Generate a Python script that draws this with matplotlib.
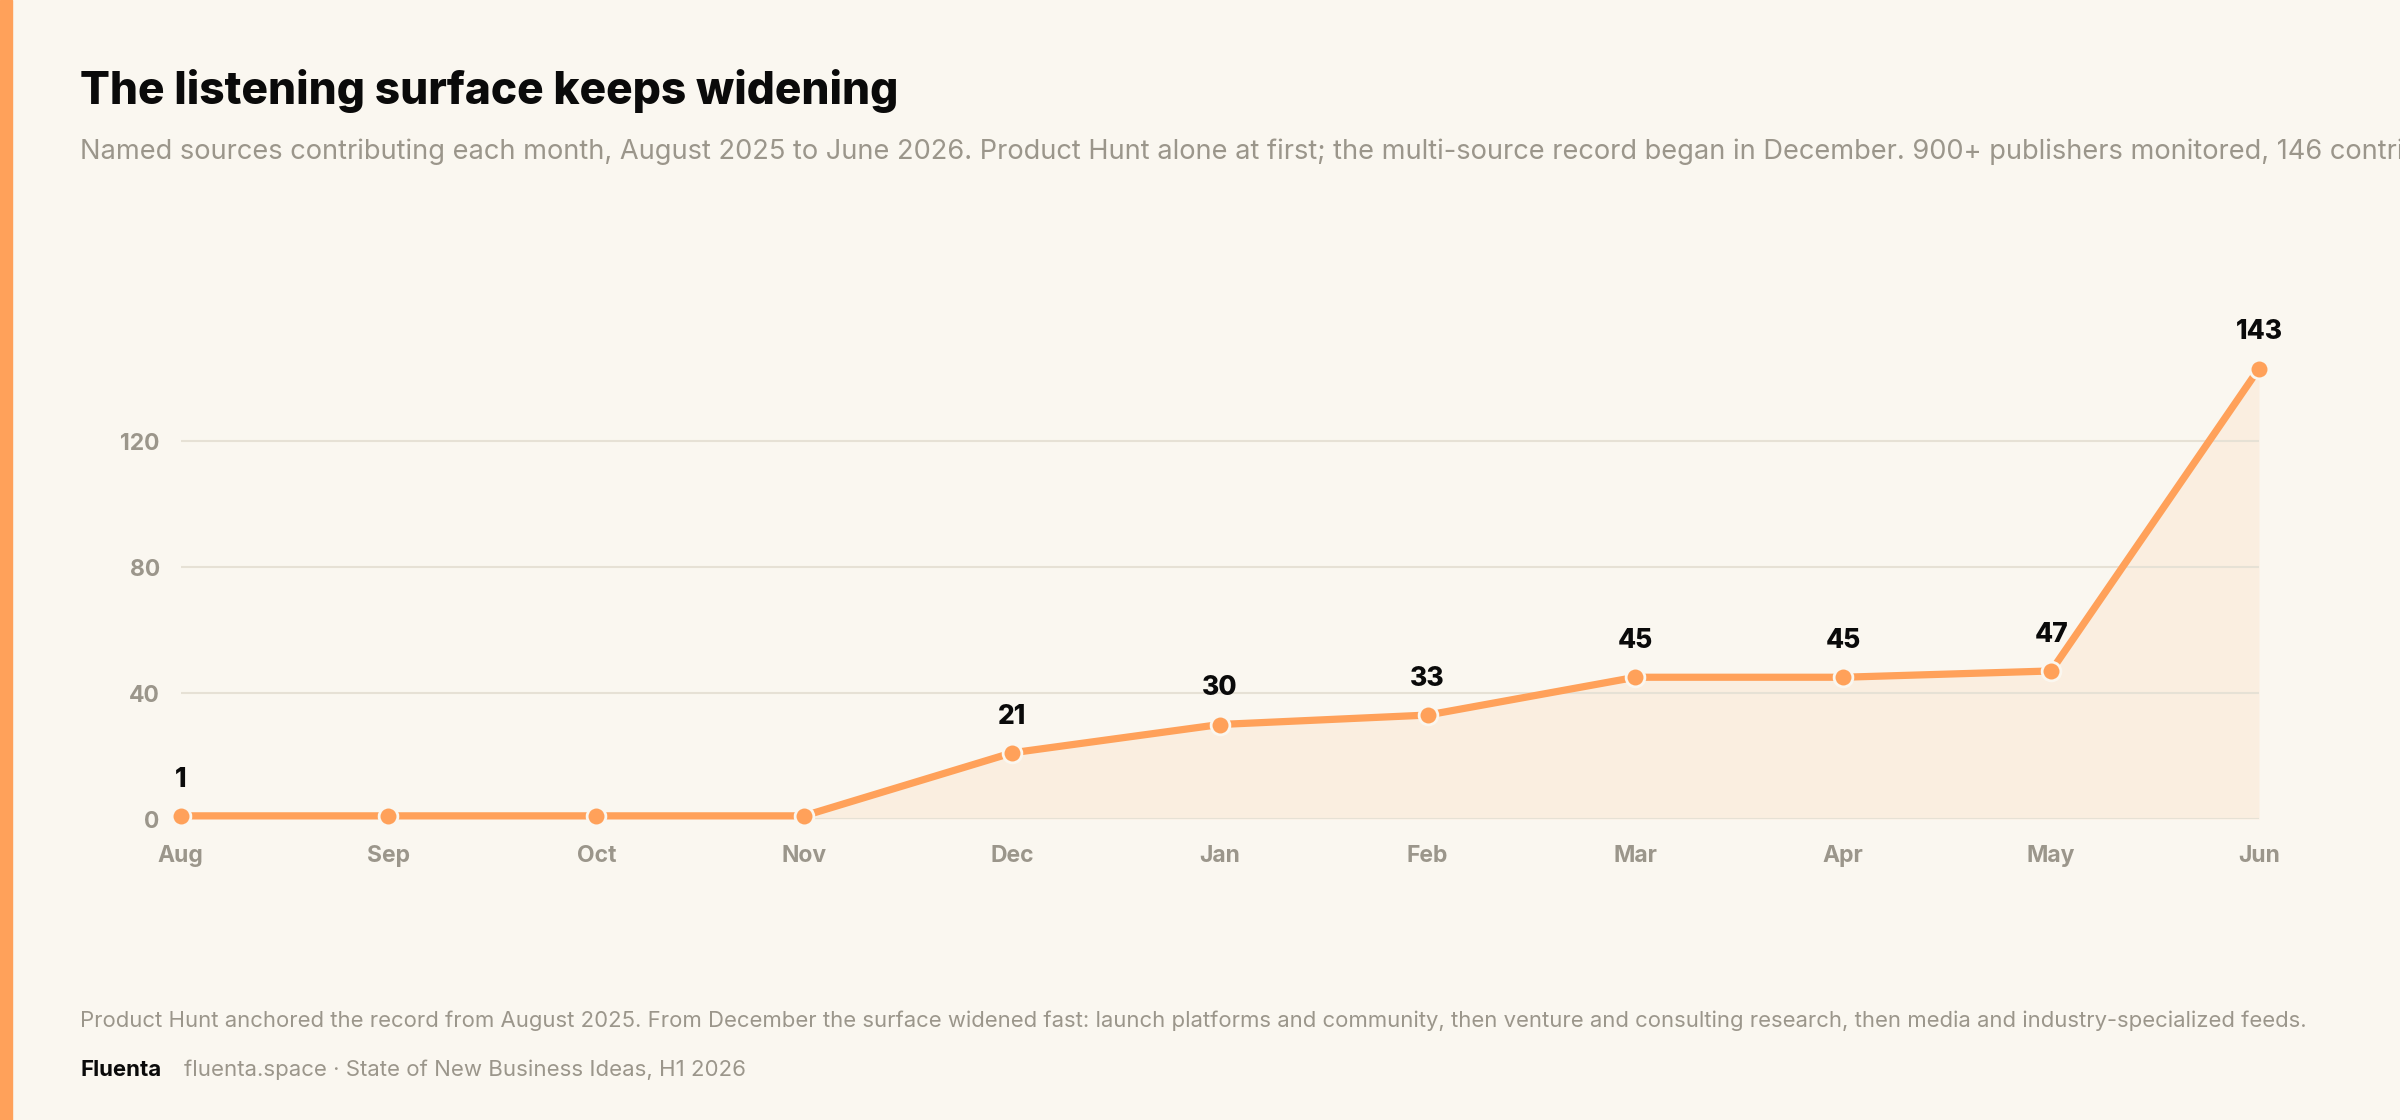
import matplotlib
matplotlib.use("Agg")
import matplotlib.pyplot as plt
from matplotlib.patches import Rectangle

plt.rcParams['font.family'] = ['Inter', 'DejaVu Sans']

months = ["Aug", "Sep", "Oct", "Nov", "Dec", "Jan", "Feb", "Mar", "Apr", "May", "Jun"]
sources = [1, 1, 1, 1, 21, 30, 33, 45, 45, 47, 143]
labelled = [True, False, False, False, True, True, True, True, True, True, True]
y_ticks = [0, 40, 80, 120]

title = "The listening surface keeps widening"
subtitle = ("Named sources contributing each month, August 2025 to June 2026. Product Hunt alone at first; "
            "the multi-source record began in December. 900+ publishers monitored, 146 contributing.")
footnote = ("Product Hunt anchored the record from August 2025. From December the surface widened fast: "
            "launch platforms and community, then venture and consulting research, then media and "
            "industry-specialized feeds.")
brand = "Fluenta"
source_txt = "fluenta.space \u00b7 State of New Business Ideas, H1 2026"

BG = "#FAF7F0"
ORANGE = "#FFA15A"
GRAY = "#9B968B"
GRID = "#E6E1D5"

W, H = 2400, 1120
fig = plt.figure(figsize=(W / 100, H / 100), dpi=100, facecolor=BG)

# left accent bar
fig.patches.append(Rectangle((0, 0), 12 / W, 1, transform=fig.transFigure, color=ORANGE, zorder=0))

fig.text(80 / W, 1 - 104 / H, title, fontsize=31.9, fontweight='heavy', color="#0A0A0A", va='baseline')
fig.text(80 / W, 1 - 159 / H, subtitle, fontsize=19.6, color=GRAY, va='baseline')
fig.text(80 / W, 1 - 1027 / H, footnote, fontsize=15.9, color=GRAY, va='baseline')
fig.text(80 / W, 1 - 1076 / H, brand, fontsize=16, fontweight='bold', color="#0A0A0A", va='baseline')
fig.text(184 / W, 1 - 1076 / H, source_txt, fontsize=16, color=GRAY, va='baseline')

left = 180.6 / W
right = 2259 / W
bottom = (H - 819) / H
top = (H - 346.5) / H
ax = fig.add_axes([left, bottom, right - left, top - bottom])
ax.set_facecolor(BG)

x = list(range(len(months)))
ax.fill_between(x, sources, 0, color=ORANGE, alpha=0.1, linewidth=0, zorder=1)
ax.plot(x, sources, color=ORANGE, linewidth=5.2, zorder=3, clip_on=False,
        marker='o', markersize=13.5, markerfacecolor=ORANGE,
        markeredgecolor=BG, markeredgewidth=2.0, solid_capstyle='round')

for xi, v, show in zip(x, sources, labelled):
    if show:
        ax.annotate(str(v), (xi, v), xytext=(0, 26), textcoords='offset points',
                    ha='center', va='center', fontsize=19, fontweight='heavy', color="#0A0A0A")

ax.set_xlim(0, len(months) - 1)
ax.set_ylim(0, 150)
ax.set_yticks(y_ticks)
ax.set_xticks(x)
ax.set_xticklabels(months)
ax.grid(axis='y', color=GRID, linewidth=1.5, zorder=0)
ax.grid(axis='x', visible=False)
for s in ax.spines.values():
    s.set_visible(False)
ax.tick_params(axis='both', length=0, labelcolor=GRAY, labelsize=16.5)
ax.tick_params(axis='y', pad=15)
ax.tick_params(axis='x', pad=19)
for lab in ax.get_xticklabels() + ax.get_yticklabels():
    lab.set_fontweight('bold')

fig.savefig("out.png", dpi=100, facecolor=BG)
